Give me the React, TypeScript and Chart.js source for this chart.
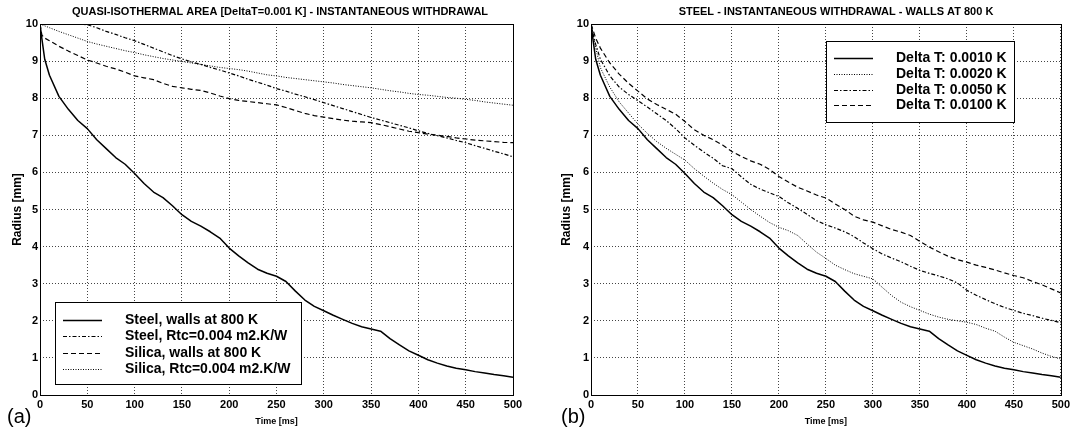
import React, { useEffect, useRef } from "react";
import { Chart, registerables } from "chart.js";

Chart.register(...registerables);

// ---------------- DATA ----------------
const TIMES = [0, 2, 5, 10, 20, 30, 40, 50, 60, 70, 80, 90, 100, 110, 120, 130, 140, 150, 160, 170, 180, 190, 200, 210, 220, 230, 240, 250, 260, 270, 280, 290, 300, 310, 320, 330, 340, 350, 360, 370, 380, 390, 400, 410, 420, 430, 440, 450, 460, 470, 480, 490, 500];

const X_TICKS = [0, 50, 100, 150, 200, 250, 300, 350, 400, 450, 500];
const Y_TICKS = [0, 1, 2, 3, 4, 5, 6, 7, 8, 9, 10];

// Steel, walls at 800 K  (== Delta T: 0.0010 K)
const STEEL_WALLS = [10, 9.6, 9.05, 8.62, 8.05, 7.7, 7.4, 7.18, 6.88, 6.64, 6.4, 6.22, 5.97, 5.7, 5.47, 5.32, 5.1, 4.86, 4.68, 4.55, 4.4, 4.23, 3.96, 3.75, 3.56, 3.39, 3.28, 3.2, 3.06, 2.8, 2.56, 2.39, 2.27, 2.15, 2.04, 1.93, 1.84, 1.78, 1.72, 1.52, 1.35, 1.19, 1.07, 0.95, 0.86, 0.78, 0.72, 0.68, 0.63, 0.59, 0.55, 0.52, 0.48];

// Steel, Rtc=0.004 m2.K/W
const STEEL_RTC = [10, 10, 10, 10, 10, 10, 10, 9.98, 9.9, 9.8, 9.72, 9.63, 9.55, 9.45, 9.35, 9.25, 9.15, 9.06, 8.98, 8.91, 8.83, 8.76, 8.68, 8.6, 8.51, 8.43, 8.35, 8.26, 8.19, 8.11, 8.04, 7.96, 7.88, 7.8, 7.72, 7.64, 7.56, 7.48, 7.41, 7.34, 7.27, 7.2, 7.12, 7.05, 6.99, 6.93, 6.86, 6.8, 6.72, 6.65, 6.57, 6.5, 6.42];

// Silica, walls at 800 K
const SILICA_WALLS = [10, 9.7, 9.62, 9.55, 9.4, 9.27, 9.15, 9.03, 8.95, 8.86, 8.79, 8.7, 8.6, 8.55, 8.5, 8.4, 8.32, 8.28, 8.24, 8.21, 8.14, 8.06, 7.99, 7.94, 7.91, 7.88, 7.85, 7.82, 7.75, 7.67, 7.59, 7.53, 7.49, 7.45, 7.41, 7.38, 7.36, 7.34, 7.29, 7.23, 7.17, 7.11, 7.07, 7.03, 7.0, 6.97, 6.93, 6.9, 6.87, 6.85, 6.83, 6.81, 6.8];

// Silica, Rtc=0.004 m2.K/W
const SILICA_RTC = [10, 9.98, 9.95, 9.9, 9.8, 9.71, 9.62, 9.53, 9.46, 9.4, 9.34, 9.28, 9.23, 9.17, 9.12, 9.07, 9.03, 8.99, 8.95, 8.91, 8.87, 8.83, 8.8, 8.77, 8.73, 8.68, 8.63, 8.6, 8.56, 8.53, 8.5, 8.47, 8.44, 8.41, 8.37, 8.34, 8.31, 8.28, 8.24, 8.2, 8.17, 8.13, 8.1, 8.08, 8.05, 8.02, 8.0, 7.97, 7.94, 7.9, 7.87, 7.84, 7.81];

// Delta T: 0.0020 K
const DT_0020 = [10, 9.75, 9.35, 8.82, 8.3, 7.9, 7.6, 7.3, 7.05, 6.83, 6.65, 6.49, 6.33, 6.1, 5.9, 5.71, 5.54, 5.4, 5.2, 5.0, 4.82, 4.65, 4.52, 4.43, 4.3, 4.07, 3.85, 3.68, 3.5, 3.38, 3.27, 3.2, 3.13, 2.9, 2.68, 2.5, 2.38, 2.28, 2.18, 2.1, 2.04, 2.0, 1.96, 1.9, 1.8, 1.72, 1.56, 1.42, 1.33, 1.24, 1.13, 1.04, 0.97];

// Delta T: 0.0050 K
const DT_0050 = [10, 9.75, 9.45, 9.05, 8.6, 8.3, 8.1, 7.93, 7.76, 7.58, 7.4, 7.18, 6.93, 6.73, 6.55, 6.38, 6.18, 6.1, 5.88, 5.68, 5.55, 5.45, 5.35, 5.18, 5.03, 4.87, 4.7, 4.59, 4.5, 4.4, 4.27, 4.1, 3.94, 3.8, 3.69, 3.59, 3.47, 3.36, 3.28, 3.21, 3.13, 3.02, 2.82, 2.69, 2.57, 2.46, 2.36, 2.28, 2.2, 2.14, 2.07, 2.01, 1.95];

// Delta T: 0.0100 K
const DT_0100 = [10, 9.85, 9.62, 9.35, 8.95, 8.65, 8.4, 8.19, 7.98, 7.83, 7.7, 7.57, 7.37, 7.15, 7.0, 6.88, 6.74, 6.56, 6.43, 6.31, 6.22, 6.08, 5.89, 5.74, 5.6, 5.5, 5.39, 5.31, 5.15, 5.0, 4.82, 4.72, 4.66, 4.56, 4.46, 4.39, 4.3, 4.14, 3.99, 3.86, 3.74, 3.65, 3.58, 3.5, 3.44, 3.37, 3.29, 3.22, 3.16, 3.06, 2.97, 2.86, 2.75];

const LEFT_LABELS = ["Steel, walls at 800 K", "Steel, Rtc=0.004 m2.K/W", "Silica, walls at 800 K", "Silica, Rtc=0.004 m2.K/W"];
const RIGHT_LABELS = ["Delta T: 0.0010 K", "Delta T: 0.0020 K", "Delta T: 0.0050 K", "Delta T: 0.0100 K"];

const LEFT_TITLE = "QUASI-ISOTHERMAL AREA [DeltaT=0.001 K] - INSTANTANEOUS WITHDRAWAL";
const RIGHT_TITLE = "STEEL - INSTANTANEOUS WITHDRAWAL - WALLS AT 800 K";
const X_TITLE = "Time [ms]";
const Y_TITLE = "Radius [mm]";

// ---------------- STYLES ----------------
const FONT = "'Liberation Sans', Arial, Helvetica, sans-serif";
const SOLID = { borderDash: [] as number[], borderWidth: 1.5 };
const DASHDOT = { borderDash: [4, 2, 1.5, 2], borderWidth: 1.2 };
const DASHED = { borderDash: [5, 3], borderWidth: 1.2 };
const DOTTED = { borderDash: [1, 1.5], borderWidth: 1 };

function series(label: string, values: number[], style: any) {
  return {
    label,
    data: TIMES.map((t, i) => ({ x: t, y: values[i] })),
    borderColor: "#000",
    backgroundColor: "#000",
    pointRadius: 0,
    tension: 0,
    fill: false,
    borderCapStyle: "butt",
    borderJoinStyle: "round",
    ...style,
  };
}

const framePlugin = {
  id: "frame",
  afterDatasetsDraw(chart: any) {
    const { ctx, chartArea: a } = chart;
    ctx.save();
    ctx.setLineDash([]);
    ctx.strokeStyle = "#000";
    ctx.lineWidth = 1;
    ctx.strokeRect(Math.round(a.left) + 0.5, Math.round(a.top) + 0.5, Math.round(a.right - a.left), Math.round(a.bottom - a.top));
    ctx.restore();
  },
};

const titlePlugin = {
  id: "posTitle",
  afterDraw(chart: any, _args: any, opts: any) {
    const { ctx } = chart;
    ctx.save();
    ctx.fillStyle = "#000";
    ctx.font = `bold 11px ${FONT}`;
    ctx.textAlign = "center";
    ctx.textBaseline = "middle";
    ctx.fillText(opts.text, opts.x, opts.y);
    ctx.restore();
  },
};

const legendPlugin = {
  id: "boxLegend",
  afterDraw(chart: any, _args: any, opts: any) {
    const { ctx } = chart;
    const { x, y, w, h, first, gap } = opts;
    ctx.save();
    ctx.fillStyle = "#fff";
    ctx.fillRect(x, y, w, h);
    ctx.setLineDash([]);
    ctx.strokeStyle = "#000";
    ctx.lineWidth = 1;
    ctx.strokeRect(x + 0.5, y + 0.5, w, h);
    chart.data.datasets.forEach((ds: any, i: number) => {
      const cy = Math.round(y + first + i * gap) + 0.5;
      ctx.beginPath();
      ctx.setLineDash(ds.borderDash || []);
      ctx.lineWidth = ds.borderWidth;
      ctx.strokeStyle = ds.borderColor;
      ctx.moveTo(x + 8, cy);
      ctx.lineTo(x + 47, cy);
      ctx.stroke();
      ctx.setLineDash([]);
      ctx.fillStyle = "#000";
      ctx.font = `bold 14px ${FONT}`;
      ctx.textAlign = "left";
      ctx.textBaseline = "middle";
      ctx.fillText(ds.label, x + 70, cy);
    });
    ctx.restore();
  },
};

function makeConfig(datasets: any[], p: any) {
  return {
    type: "line",
    data: { datasets },
    plugins: [framePlugin, titlePlugin, legendPlugin],
    options: {
      responsive: false,
      animation: false,
      events: [],
      layout: { padding: { left: 0, right: p.padRight, top: 24, bottom: 0 } },
      plugins: {
        legend: { display: false },
        tooltip: { enabled: false },
        title: { display: false },
        posTitle: { text: p.title, x: p.titleX, y: 12 },
        boxLegend: p.legend,
      },
      scales: {
        x: {
          type: "linear",
          min: 0,
          max: 500,
          afterFit(s: any) {
            s.height = 39;
          },
          afterBuildTicks(s: any) {
            s.ticks = X_TICKS.map((v) => ({ value: v }));
          },
          grid: { color: "#444", lineWidth: 1, drawTicks: false },
          border: { display: false, dash: [1, 2] },
          ticks: { color: "#000", padding: 3, maxRotation: 0, autoSkip: false, font: { family: FONT, size: 11, weight: "bold" } },
          title: { display: true, text: X_TITLE, color: "#000", font: { family: FONT, size: 9, weight: "bold" }, padding: { top: 0, bottom: 7 } },
        },
        y: {
          type: "linear",
          min: 0,
          max: 10,
          afterFit(s: any) {
            s.width = p.yWidth;
          },
          afterBuildTicks(s: any) {
            s.ticks = Y_TICKS.map((v) => ({ value: v }));
          },
          grid: { color: "#444", lineWidth: 1, drawTicks: false },
          border: { display: false, dash: [1, 2] },
          ticks: { color: "#000", padding: 2, autoSkip: false, font: { family: FONT, size: 11, weight: "bold" } },
          title: { display: true, text: Y_TITLE, color: "#000", font: { family: FONT, size: 12, weight: "bold" }, padding: { top: p.yTitlePad, bottom: 0 } },
        },
      },
    },
  };
}

export default function App() {
  const leftRef = useRef<HTMLCanvasElement | null>(null);
  const rightRef = useRef<HTMLCanvasElement | null>(null);

  useEffect(() => {
    const left = new Chart(
      leftRef.current as HTMLCanvasElement,
      makeConfig(
        [
          series(LEFT_LABELS[0], STEEL_WALLS, SOLID),
          series(LEFT_LABELS[1], STEEL_RTC, DASHDOT),
          series(LEFT_LABELS[2], SILICA_WALLS, DASHED),
          series(LEFT_LABELS[3], SILICA_RTC, DOTTED),
        ],
        {
          padRight: 20,
          yWidth: 40,
          yTitlePad: 10,
          title: LEFT_TITLE,
          titleX: 280,
          legend: { x: 55, y: 302, w: 246, h: 82, first: 18, gap: 16.3 },
        }
      ) as any
    );
    const right = new Chart(
      rightRef.current as HTMLCanvasElement,
      makeConfig(
        [
          series(RIGHT_LABELS[0], STEEL_WALLS, SOLID),
          series(RIGHT_LABELS[1], DT_0020, DOTTED),
          series(RIGHT_LABELS[2], DT_0050, DASHDOT),
          series(RIGHT_LABELS[3], DT_0100, DASHED),
        ],
        {
          padRight: 10,
          yWidth: 58,
          yTitlePad: 26,
          title: RIGHT_TITLE,
          titleX: 303,
          legend: { x: 293, y: 41, w: 188, h: 81, first: 17, gap: 15.8 },
        }
      ) as any
    );
    return () => {
      left.destroy();
      right.destroy();
    };
  }, []);

  const panelLabel: React.CSSProperties = {
    position: "absolute",
    top: 404,
    fontFamily: FONT,
    fontSize: 20,
    lineHeight: "24px",
    color: "#000",
  };

  return (
    <div style={{ position: "absolute", left: 0, top: 0, width: 1073, height: 434, background: "#fff", overflow: "hidden" }}>
      <canvas ref={leftRef} width={533} height={434} style={{ position: "absolute", left: 0, top: 0 }} />
      <canvas ref={rightRef} width={540} height={434} style={{ position: "absolute", left: 533, top: 0 }} />
      <span style={{ ...panelLabel, left: 7 }}>(a)</span>
      <span style={{ ...panelLabel, left: 561 }}>(b)</span>
    </div>
  );
}
